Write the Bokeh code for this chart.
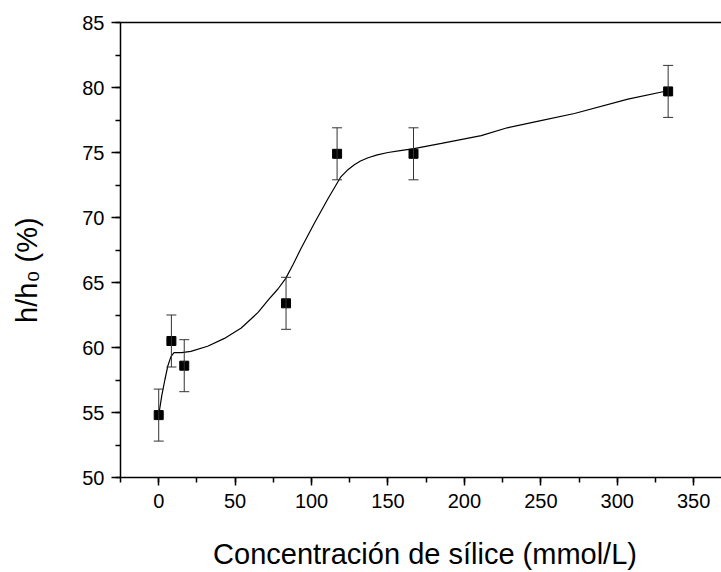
import numpy as np
from bokeh.plotting import figure
from bokeh.models import (ColumnDataSource, Whisker, TeeHead, LinearAxis, FixedTicker,
                          SingleIntervalTicker, Range1d)
from bokeh.embed import file_html
from bokeh.resources import INLINE

# measured points
conc = [0, 8.3, 16.7, 83.3, 116.7, 166.7, 333.3]
ratio = [54.8, 60.5, 58.6, 63.4, 74.9, 74.9, 79.7]
err = [2.0, 2.0, 2.0, 2.0, 2.0, 2.0, 2.0]

# fitted curve
fit_x = [0, 2, 4, 6, 8, 10, 15, 21, 32, 43, 54, 65, 72, 78, 83, 88, 93, 102, 111,
         119, 124, 128, 132, 137, 143, 150, 158, 167, 185, 211, 228, 250, 272, 307, 333]
fit_y = [54.8, 56.3, 57.5, 58.6, 59.3, 59.6, 59.6, 59.7, 60.1, 60.7, 61.5, 62.7, 63.7,
         64.5, 65.3, 66.4, 67.6, 69.6, 71.5, 73.1, 73.7, 74.05, 74.35, 74.6, 74.82, 75.0,
         75.15, 75.3, 75.7, 76.3, 76.9, 77.45, 78.0, 79.1, 79.75]

x_title = "Concentración de sílice (mmol/L)"
y_title = "h/h\u2080 (%)"

FONT = "Liberation Sans"

p = figure(width=721, height=572, output_backend="svg", toolbar_location=None,
           x_range=Range1d(-25, 368.2), y_range=Range1d(50, 85),
           min_border_left=120, min_border_right=0, min_border_top=22,
           min_border_bottom=94)
p.outline_line_color = None
p.xgrid.visible = False
p.ygrid.visible = False
p.background_fill_color = "white"
p.border_fill_color = "white"

for ax in (p.xaxis[0], p.yaxis[0]):
    ax.axis_line_width = 1.5
    ax.axis_line_color = "black"
    ax.major_tick_line_width = 1.5
    ax.minor_tick_line_width = 1.5
    ax.major_tick_line_color = "black"
    ax.minor_tick_line_color = "black"
    ax.major_tick_in = 0
    ax.minor_tick_in = 0
    ax.major_label_text_font = FONT
    ax.major_label_text_font_size = "20px"
    ax.major_label_text_color = "black"
    ax.axis_label_text_font = FONT
    ax.axis_label_text_font_size = "29px"
    ax.axis_label_text_font_style = "normal"
    ax.axis_label_text_color = "black"

p.xaxis[0].ticker = SingleIntervalTicker(interval=50, num_minor_ticks=2)
p.yaxis[0].ticker = SingleIntervalTicker(interval=5, num_minor_ticks=2)
p.xaxis[0].major_tick_out = 8
p.xaxis[0].minor_tick_out = 5
p.yaxis[0].major_tick_out = 9
p.yaxis[0].minor_tick_out = 5
p.xaxis[0].major_label_standoff = 8
p.yaxis[0].major_label_standoff = 7

p.xaxis[0].axis_label = "\u00a0" + x_title
p.xaxis[0].axis_label_standoff = 27
p.yaxis[0].axis_label = y_title + "\u00a0" * 5
p.yaxis[0].axis_label_standoff = 36

top = LinearAxis(ticker=FixedTicker(ticks=[]), axis_line_width=1.5, axis_line_color="black",
                 major_tick_line_color=None, minor_tick_line_color=None,
                 major_label_text_font_size="0px", major_label_standoff=0)
p.add_layout(top, "above")

# fitted curve
p.line(fit_x, fit_y, line_color="black", line_width=1.2)

# error bars
lower = [r - e for r, e in zip(ratio, err)]
upper = [r + e for r, e in zip(ratio, err)]
src = ColumnDataSource(dict(x=conc, y=ratio, lower=lower, upper=upper))
wh = Whisker(base="x", lower="lower", upper="upper", source=src,
             line_color="#333333", line_width=1,
             upper_head=TeeHead(size=10, line_color="#333333", line_width=1),
             lower_head=TeeHead(size=10, line_color="#333333", line_width=1))
wh.level = "glyph"
p.add_layout(wh)

p.scatter("x", "y", source=src, marker="square", size=9, fill_color="black",
          line_color="black")

open("out.html", "w").write(file_html(p, INLINE))
